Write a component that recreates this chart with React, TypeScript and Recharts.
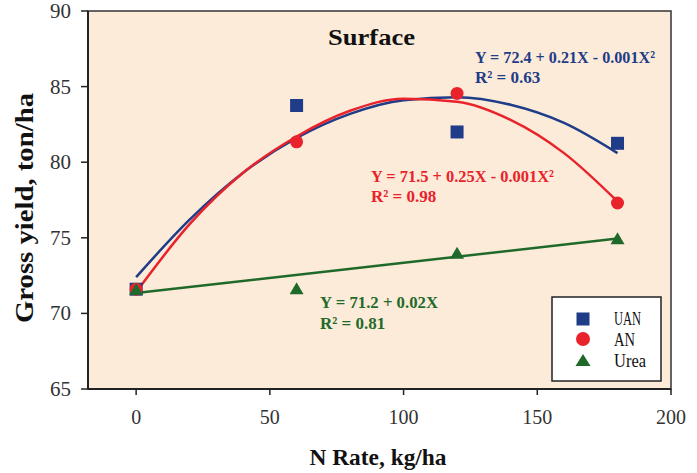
import React from 'react';
import { ComposedChart, Line, Scatter, XAxis, YAxis, CartesianGrid, Customized } from 'recharts';

// Observed yields (ton/ha) by N rate (kg/ha)
const nRates = [0, 60, 120, 180];
const uanYield = [71.6, 83.75, 82.0, 81.25];
const anYield = [71.6, 81.35, 84.55, 77.3];
const ureaYield = [71.55, 71.6, 73.95, 74.9];

// Trendlines
const fitRates = [0, 20, 40, 60, 80, 100, 120, 140, 160, 180];
const uanFit = [72.4, 76.2, 79.3, 81.6, 83.2, 84.1, 84.3, 83.8, 82.6, 80.6];
const anFit = [71.4, 75.9, 79.3, 81.7, 83.4, 84.2, 84.0, 82.8, 80.6, 77.4];
const ureaFitRates = [0, 180];
const ureaFit = [71.35, 74.95];

const xTicks = [0, 50, 100, 150, 200];
const yTicks = [65, 70, 75, 80, 85, 90];
const seriesNames = ['UAN', 'AN', 'Urea'];

const BLUE = '#1f3c88';
const RED = '#e8232b';
const GREEN = '#1f6a2b';
const BG = '#fcebd9';
const SERIF = 'Liberation Serif, Times New Roman, serif';

const toPts = (xs: number[], ys: number[]) => xs.map((x, i) => ({ x, y: ys[i] }));

const uanPts = toPts(nRates, uanYield);
const anPts = toPts(nRates, anYield);
const ureaPts = toPts(nRates, ureaYield);
const uanFitPts = toPts(fitRates, uanFit);
const anFitPts = toPts(fitRates, anFit);
const ureaFitPts = toPts(ureaFitRates, ureaFit);

const Square = (p: any) => (
  <rect x={p.cx - 6.5} y={p.cy - 6.5} width={13} height={13} fill={BLUE} />
);
const Dot = (p: any) => <circle cx={p.cx} cy={p.cy} r={6.5} fill={RED} />;
const Tri = (p: any) => (
  <polygon
    points={`${p.cx},${p.cy - 7} ${p.cx + 7},${p.cy + 5} ${p.cx - 7},${p.cy + 5}`}
    fill={GREEN}
  />
);

const XTick = (p: any) => (
  <text x={p.x} y={p.y + 13} textAnchor="middle" fontFamily={SERIF} fontSize={20} fill="#333">
    {p.payload.value}
  </text>
);
const YTick = (p: any) => (
  <text x={p.x + 1} y={p.y + 7} textAnchor="end" fontFamily={SERIF} fontSize={21} fill="#333">
    {p.payload.value}
  </text>
);

const Overlay = () => (
  <g fontFamily={SERIF}>
    <rect x={88} y={11} width={583} height={378} fill="none" stroke="#333" strokeWidth={1.5} />
    <text x={328} y={45} fontSize={24} fontWeight="bold" fill="#111" textLength={87} lengthAdjust="spacingAndGlyphs">
      Surface
    </text>
    <text x={475} y={63} fontSize={17} fontWeight="bold" fill={BLUE} textLength={180} lengthAdjust="spacingAndGlyphs">
      Y = 72.4 + 0.21X - 0.001X²
    </text>
    <text x={475} y={83} fontSize={17} fontWeight="bold" fill={BLUE}>
      R² = 0.63
    </text>
    <text x={371} y={182} fontSize={17} fontWeight="bold" fill={RED} textLength={183} lengthAdjust="spacingAndGlyphs">
      Y = 71.5 + 0.25X - 0.001X²
    </text>
    <text x={371} y={202} fontSize={17} fontWeight="bold" fill={RED}>
      R² = 0.98
    </text>
    <text x={320} y={308} fontSize={17} fontWeight="bold" fill={GREEN} textLength={118} lengthAdjust="spacingAndGlyphs">
      Y = 71.2 + 0.02X
    </text>
    <text x={320} y={329} fontSize={17} fontWeight="bold" fill={GREEN}>
      R² = 0.81
    </text>
    <text
      x={0}
      y={0}
      transform="translate(33 208) rotate(-90)"
      textAnchor="middle"
      fontSize={26}
      fontWeight="bold"
      fill="#111"
      textLength={230}
      lengthAdjust="spacingAndGlyphs"
    >
      Gross yield, ton/ha
    </text>
    <text x={378} y={465} textAnchor="middle" fontSize={24} fontWeight="bold" fill="#111" textLength={137} lengthAdjust="spacingAndGlyphs">
      N Rate, kg/ha
    </text>
    {/* legend */}
    <rect x={552} y={297} width={109} height={84} fill="#fff" stroke="#222" strokeWidth={1.5} />
    <rect x={576.5} y={312.5} width={13} height={13} fill={BLUE} />
    <circle cx={583} cy={339} r={7} fill={RED} />
    <polygon points="583,354 590.5,366 575.5,366" fill={GREEN} />
    <text x={614} y={325} fontSize={19} fill="#111" textLength={27} lengthAdjust="spacingAndGlyphs">{seriesNames[0]}</text>
    <text x={614} y={346} fontSize={19} fill="#111" textLength={21} lengthAdjust="spacingAndGlyphs">{seriesNames[1]}</text>
    <text x={614} y={367} fontSize={19} fill="#111" textLength={32} lengthAdjust="spacingAndGlyphs">{seriesNames[2]}</text>
  </g>
);

export default function App() {
  return (
    <div style={{ position: 'absolute', left: 0, top: 0, width: 697, height: 473, background: '#fff' }}>
      <ComposedChart width={697} height={473} margin={{ top: 11, right: 26, left: 28, bottom: 54 }}>
        <CartesianGrid horizontal={false} vertical={false} fill={BG} fillOpacity={1} />
        <XAxis
          type="number"
          dataKey="x"
          domain={[-18, 200]}
          ticks={xTicks}
          allowDataOverflow
          axisLine={{ stroke: '#222', strokeWidth: 2 }}
          tickLine={{ stroke: '#222', strokeWidth: 1.5 }}
          tickSize={6}
          tickMargin={16}
          tick={<XTick />}
          height={30}
        />
        <YAxis
          type="number"
          dataKey="y"
          domain={[65, 90]}
          ticks={yTicks}
          allowDataOverflow
          axisLine={{ stroke: '#222', strokeWidth: 2 }}
          tickLine={{ stroke: '#222', strokeWidth: 1.5 }}
          tickSize={7}
          tickMargin={11}
          tick={<YTick />}
          width={60}
        />
        <Scatter name="UAN" data={uanPts} shape={Square} isAnimationActive={false} />
        <Scatter name="AN" data={anPts} shape={Dot} isAnimationActive={false} />
        <Scatter name="Urea" data={ureaPts} shape={Tri} isAnimationActive={false} />
        <Line data={uanFitPts} dataKey="y" type="monotone" stroke={BLUE} strokeWidth={2.5} dot={false} isAnimationActive={false} />
        <Line data={anFitPts} dataKey="y" type="monotone" stroke={RED} strokeWidth={2.5} dot={false} isAnimationActive={false} />
        <Line data={ureaFitPts} dataKey="y" type="linear" stroke={GREEN} strokeWidth={2.5} dot={false} isAnimationActive={false} />
        <Customized component={<Overlay />} />
      </ComposedChart>
    </div>
  );
}
